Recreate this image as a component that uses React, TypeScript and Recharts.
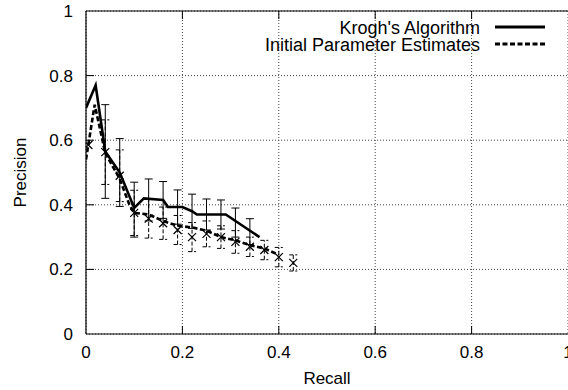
import React from 'react';
import {
  ComposedChart,
  Line,
  Scatter,
  XAxis,
  YAxis,
  CartesianGrid,
  ErrorBar,
  ReferenceLine,
  Label,
} from 'recharts';

// ---- data ----
const kroghLineX = [0, 0.02, 0.04, 0.07, 0.1, 0.12, 0.16, 0.17, 0.2, 0.22, 0.23, 0.29, 0.36];
const kroghLineY = [0.7, 0.77, 0.565, 0.5, 0.39, 0.42, 0.415, 0.393, 0.393, 0.38, 0.37, 0.37, 0.3];

const kroghBarX = [0.04, 0.07, 0.1, 0.13, 0.16, 0.19, 0.22, 0.25, 0.28, 0.31, 0.34];
const kroghBarY = [0.565, 0.5, 0.385, 0.415, 0.415, 0.393, 0.38, 0.37, 0.37, 0.345, 0.317];
const kroghBarErr = [0.145, 0.105, 0.085, 0.065, 0.057, 0.053, 0.053, 0.048, 0.045, 0.045, 0.04];

const initLineX = [0, 0.018, 0.04, 0.07, 0.09, 0.1, 0.13, 0.16, 0.19, 0.22, 0.25, 0.28, 0.31, 0.34, 0.37, 0.4];
const initLineY = [0.54, 0.71, 0.56, 0.48, 0.4, 0.375, 0.37, 0.35, 0.335, 0.33, 0.32, 0.3, 0.29, 0.275, 0.265, 0.245];

const initPointX = [0.005, 0.04, 0.07, 0.1, 0.13, 0.16, 0.19, 0.22, 0.25, 0.28, 0.31, 0.34, 0.37, 0.4, 0.43];
const initPointY = [0.585, 0.563, 0.49, 0.375, 0.357, 0.343, 0.322, 0.3, 0.31, 0.3, 0.285, 0.27, 0.26, 0.238, 0.22];
const initPointErr = [0, 0.1, 0.08, 0.07, 0.06, 0.05, 0.045, 0.045, 0.04, 0.035, 0.035, 0.03, 0.03, 0.03, 0.025];

const axisTicks = [0, 0.2, 0.4, 0.6, 0.8, 1];
const innerTicks = [0.2, 0.4, 0.6, 0.8];

const seriesNames = ["Krogh's Algorithm", 'Initial Parameter Estimates'];

const zip = (xs: number[], ys: number[], es?: number[]) =>
  xs.map((x, i) => ({ x, y: ys[i], err: es ? es[i] : 0 }));

const kroghLine = zip(kroghLineX, kroghLineY);
const kroghBars = zip(kroghBarX, kroghBarY, kroghBarErr);
const initLine = zip(initLineX, initLineY);
const initPoints = zip(initPointX, initPointY, initPointErr);

const FONT = '"Liberation Sans", Arial, Helvetica, sans-serif';
const tickStyle = { fontFamily: FONT, fontSize: 17, fill: '#000' };

const XMark = (props: any) => {
  const { cx, cy } = props;
  if (cx == null || cy == null) return <g />;
  const s = 4;
  return (
    <path
      d={`M${cx - s},${cy - s}L${cx + s},${cy + s}M${cx - s},${cy + s}L${cx + s},${cy - s}`}
      stroke="#000"
      strokeWidth={1.2}
      fill="none"
    />
  );
};

const NoMark = () => <g />;

const TICK_X = 0.0166;
const TICK_Y = 0.025;

export default function App() {
  return (
    <div style={{ position: 'absolute', left: 0, top: 0, width: 568, height: 390, background: '#fff' }}>
      <ComposedChart width={568} height={390} margin={{ top: 11, right: 0, bottom: 0, left: 0 }}>
        <CartesianGrid stroke="#444" strokeDasharray="1 2" strokeWidth={1} />
        <XAxis
          type="number"
          dataKey="x"
          domain={[0, 1]}
          ticks={axisTicks}
          interval={0}
          tickLine={false}
          tickSize={0}
          tickMargin={12}
          height={56}
          axisLine={{ stroke: '#000', strokeWidth: 1.2 }}
          tick={tickStyle}
          allowDataOverflow
        >
          <Label
            value="Recall"
            position="insideBottom"
            offset={6}
            style={{ fontFamily: FONT, fontSize: 17, fill: '#000' }}
          />
        </XAxis>
        <YAxis
          type="number"
          dataKey="y"
          domain={[0, 1]}
          ticks={axisTicks}
          interval={0}
          tickLine={false}
          tickSize={0}
          tickMargin={13}
          width={86}
          axisLine={{ stroke: '#000', strokeWidth: 1.2 }}
          tick={tickStyle}
          allowDataOverflow
        >
          <Label
            content={(p: any) => {
              const vb = p.viewBox || {};
              const cx = (vb.x || 0) + 20;
              const cy = (vb.y || 0) + (vb.height || 0) / 2;
              return (
                <text
                  x={cx}
                  y={cy}
                  transform={`rotate(-90 ${cx} ${cy})`}
                  textAnchor="middle"
                  dominantBaseline="central"
                  style={{ fontFamily: FONT, fontSize: 17, fill: '#000' }}
                >
                  Precision
                </text>
              );
            }}
          />
        </YAxis>

        <ReferenceLine y={1} stroke="#000" strokeWidth={1.2} ifOverflow="visible" />

        {innerTicks.map((t) => (
          <ReferenceLine
            key={`b${t}`}
            segment={[{ x: t, y: 0 }, { x: t, y: TICK_Y }]}
            stroke="#000"
            strokeWidth={1}
            ifOverflow="visible"
          />
        ))}
        {innerTicks.map((t) => (
          <ReferenceLine
            key={`t${t}`}
            segment={[{ x: t, y: 1 }, { x: t, y: 1 - TICK_Y }]}
            stroke="#000"
            strokeWidth={1}
            ifOverflow="visible"
          />
        ))}
        {innerTicks.map((t) => (
          <ReferenceLine
            key={`l${t}`}
            segment={[{ x: 0, y: t }, { x: TICK_X, y: t }]}
            stroke="#000"
            strokeWidth={1}
            ifOverflow="visible"
          />
        ))}

        <Scatter data={kroghBars} dataKey="y" shape={NoMark} isAnimationActive={false}>
          <ErrorBar dataKey="err" direction="y" width={4} stroke="#000" strokeWidth={1} isAnimationActive={false} />
        </Scatter>
        <Scatter data={initPoints} dataKey="y" shape={XMark} isAnimationActive={false}>
          <ErrorBar
            dataKey="err"
            direction="y"
            width={4}
            stroke="#000"
            strokeWidth={1}
            strokeDasharray="4 2"
            isAnimationActive={false}
          />
        </Scatter>

        <Line
          data={kroghLine}
          dataKey="y"
          type="linear"
          stroke="#000"
          strokeWidth={2.6}
          dot={false}
          activeDot={false}
          isAnimationActive={false}
          name={seriesNames[0]}
        />
        <Line
          data={initLine}
          dataKey="y"
          type="linear"
          stroke="#000"
          strokeWidth={2.6}
          strokeDasharray="5 2.5"
          dot={false}
          activeDot={false}
          isAnimationActive={false}
          name={seriesNames[1]}
        />
      </ComposedChart>

      <svg
        width={568}
        height={60}
        style={{ position: 'absolute', left: 0, top: 0, pointerEvents: 'none' }}
      >
        <text x={480} y={33.5} textAnchor="end" style={{ fontFamily: FONT, fontSize: 18, fill: '#000' }}>
          {seriesNames[0]}
        </text>
        <line x1={495} y1={27} x2={545} y2={27} stroke="#000" strokeWidth={2.8} />
        <text x={480} y={50.5} textAnchor="end" style={{ fontFamily: FONT, fontSize: 18, fill: '#000' }}>
          {seriesNames[1]}
        </text>
        <line x1={495} y1={44} x2={545} y2={44} stroke="#000" strokeWidth={2.8} strokeDasharray="5 2.5" />
      </svg>
    </div>
  );
}
